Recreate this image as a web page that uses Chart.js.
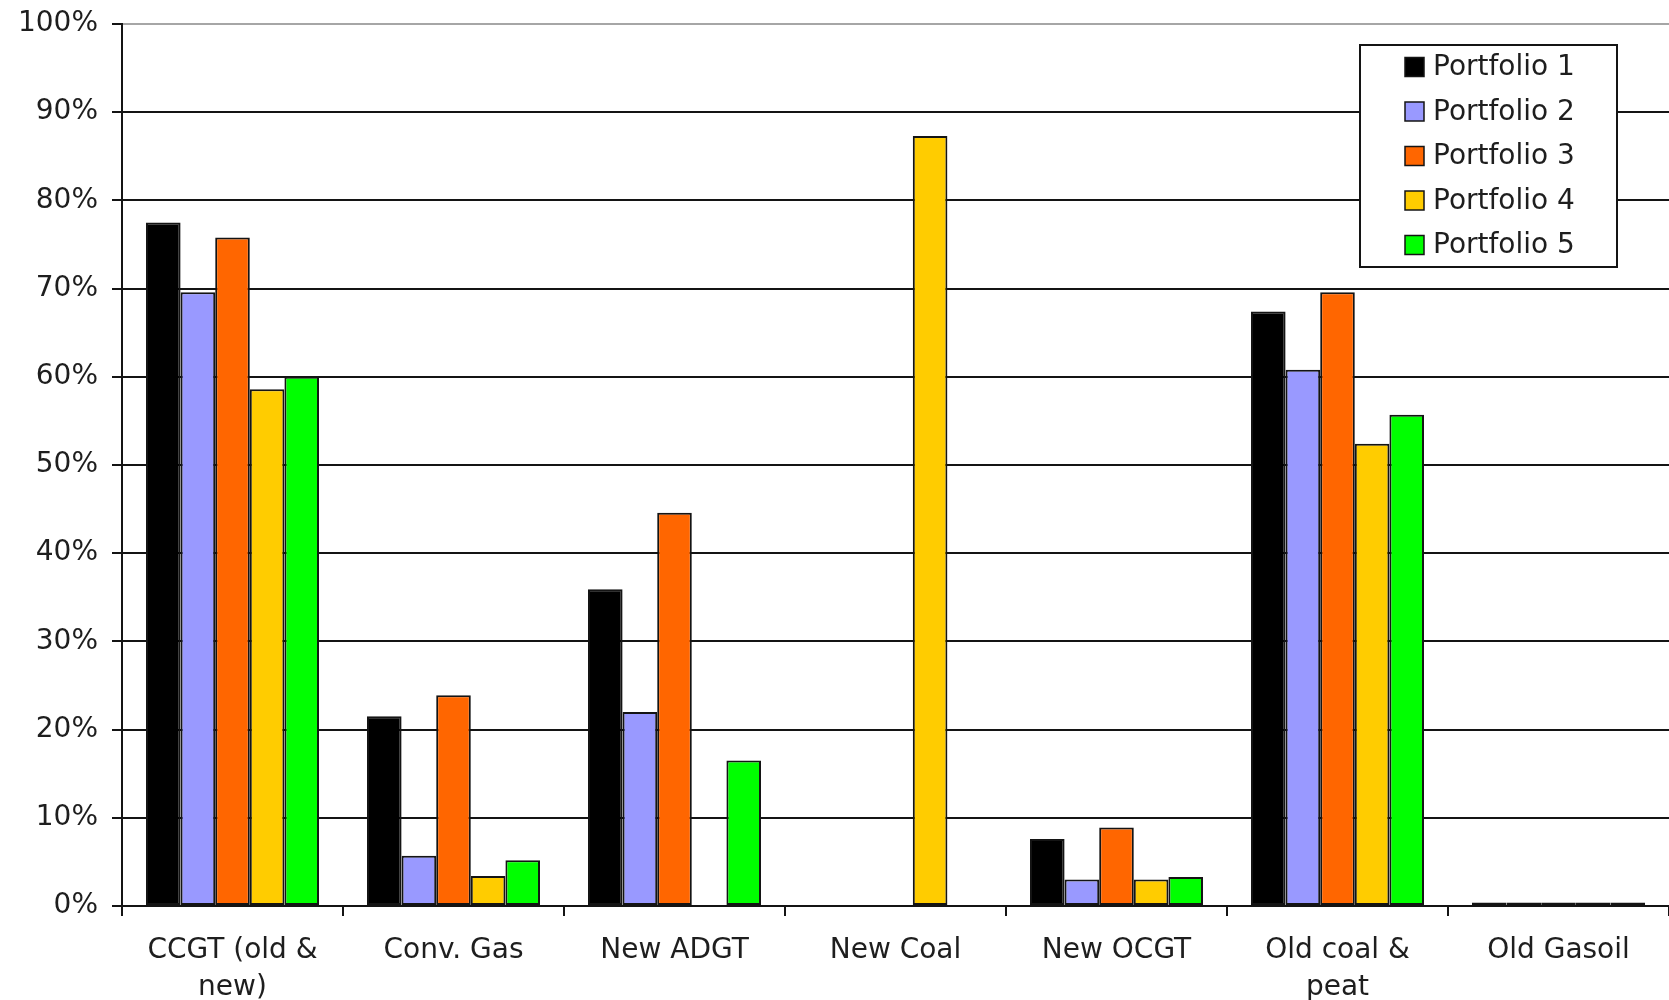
<!DOCTYPE html>
<html>
<head>
<meta charset="utf-8">
<title>Capacity factors by technology and portfolio</title>
<script src="https://cdn.jsdelivr.net/npm/chart.js@4/dist/chart.umd.min.js"></script>
<style>
  html, body { margin: 0; padding: 0; background: #ffffff; }
  #wrap { width: 1669px; height: 1000px; }
</style>
</head>
<body>
<div id="wrap"><canvas id="chart" width="1669" height="1000"></canvas></div>
<script>
// Technology categories (x axis)
const categories = [
  ['CCGT (old &', 'new)'],
  'Conv. Gas',
  'New ADGT',
  'New Coal',
  'New OCGT',
  ['Old coal &', 'peat'],
  'Old Gasoil'
];

// Share (%) for each portfolio, in category order
const portfolio1 = [77.5, 21.5, 35.9, 0, 7.6, 67.4, 0.4];
const portfolio2 = [69.6, 5.7, 22.0, 0, 3.0, 60.8, 0.4];
const portfolio3 = [75.8, 23.9, 44.6, 0, 8.9, 69.6, 0.4];
const portfolio4 = [58.6, 3.4, 0, 87.3, 3.0, 52.4, 0.4];
const portfolio5 = [60.0, 5.2, 16.5, 0, 3.3, 55.7, 0.4];

const seriesNames = ['Portfolio 1', 'Portfolio 2', 'Portfolio 3', 'Portfolio 4', 'Portfolio 5'];
const seriesColors = ['#000000', '#9999FF', '#FF6600', '#FFCC00', '#00FF00'];

// Y axis tick values
const yTicks = [0, 10, 20, 30, 40, 50, 60, 70, 80, 90, 100];

const FONT = 'DejaVu Sans';
const TEXT = '#1e1e1e';
const LINE = '#141414';

const seriesValues = [portfolio1, portfolio2, portfolio3, portfolio4, portfolio5];

// Boxed legend drawn inside the plot area, top right
const boxedLegend = {
  id: 'boxedLegend',
  afterDraw(chart) {
    const ctx = chart.ctx;
    const area = chart.chartArea;
    const w = 257, h = 222;
    const left = area.right - 52 - w;
    const top = area.top + 21;
    ctx.save();
    ctx.fillStyle = '#ffffff';
    ctx.fillRect(left, top, w, h);
    ctx.lineWidth = 2;
    ctx.strokeStyle = LINE;
    ctx.strokeRect(left, top, w, h);
    ctx.font = '28px "' + FONT + '"';
    ctx.textBaseline = 'middle';
    ctx.textAlign = 'left';
    chart.data.datasets.forEach((ds, i) => {
      const cy = top + 22 + i * 44.5;
      ctx.fillStyle = ds.backgroundColor;
      ctx.fillRect(left + 45, cy - 9.5, 19, 19);
      ctx.lineWidth = 1.5;
      ctx.strokeStyle = LINE;
      ctx.strokeRect(left + 45, cy - 9.5, 19, 19);
      ctx.fillStyle = TEXT;
      ctx.fillText(ds.label, left + 73, cy + 1);
    });
    ctx.restore();
  }
};

const whiteBackground = {
  id: 'whiteBackground',
  beforeDraw(chart) {
    const ctx = chart.ctx;
    ctx.save();
    ctx.fillStyle = '#ffffff';
    ctx.fillRect(0, 0, chart.width, chart.height);
    ctx.restore();
  }
};

new Chart(document.getElementById('chart'), {
  type: 'bar',
  data: {
    labels: categories,
    datasets: seriesNames.map((name, i) => ({
      label: name,
      data: seriesValues[i],
      backgroundColor: seriesColors[i],
      borderColor: LINE,
      borderWidth: 2,
      borderSkipped: false,
      categoryPercentage: 0.783,
      barPercentage: 1.0
    }))
  },
  options: {
    responsive: false,
    devicePixelRatio: 1,
    animation: false,
    layout: { padding: { top: 24, right: 0, left: 0, bottom: 0 } },
    plugins: {
      legend: { display: false },
      tooltip: { enabled: false }
    },
    scales: {
      x: {
        grid: {
          offset: true,
          drawOnChartArea: false,
          drawTicks: true,
          tickLength: 10,
          tickColor: LINE,
          tickWidth: 2,
          color: LINE,
          lineWidth: 2
        },
        border: { display: true, color: LINE, width: 2 },
        ticks: {
          autoSkip: false,
          maxRotation: 0,
          minRotation: 0,
          padding: 17,
          color: TEXT,
          font: { family: FONT, size: 28, lineHeight: 1.3 }
        },
        afterFit(scale) {
          scale.height = 94;
          scale.paddingLeft = 0;
          scale.paddingRight = 0;
        }
      },
      y: {
        min: 0,
        max: 100,
        afterBuildTicks(scale) {
          scale.ticks = yTicks.map(v => ({ value: v }));
        },
        grid: {
          drawTicks: true,
          tickLength: 10,
          color: ctx => (ctx.tick && ctx.tick.value === 100 ? '#a6a6a6' : LINE),
          tickColor: LINE,
          lineWidth: 2
        },
        border: { display: true, color: LINE, width: 2 },
        ticks: {
          padding: 14,
          color: TEXT,
          font: { family: FONT, size: 28 },
          callback: v => v + '%'
        },
        afterFit(scale) {
          scale.width = 122;
          scale.paddingTop = 0;
          scale.paddingBottom = 0;
        }
      }
    }
  },
  plugins: [whiteBackground, boxedLegend]
});
</script>
</body>
</html>
